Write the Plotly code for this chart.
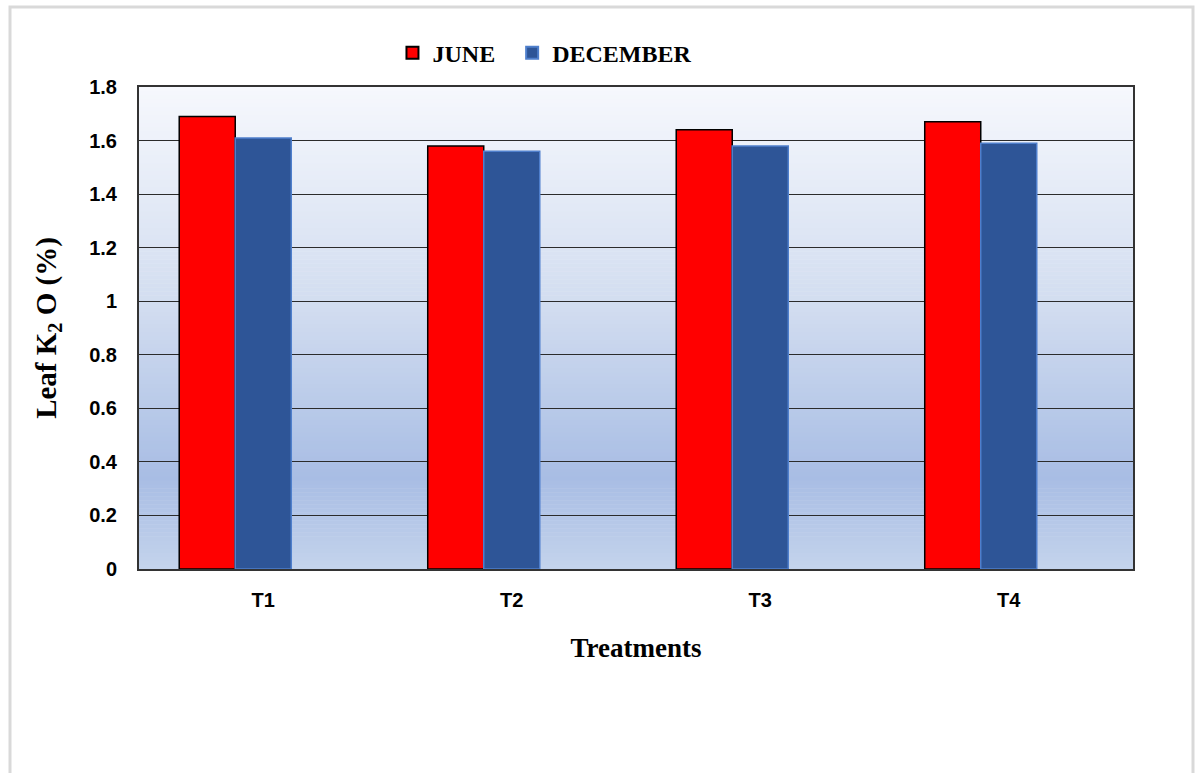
import plotly.graph_objects as go

# Leaf K2O content by treatment, two sampling months
treatments = ["T1", "T2", "T3", "T4"]
june = [1.69, 1.58, 1.64, 1.67]
december = [1.61, 1.56, 1.58, 1.59]

y_ticks = [0, 0.2, 0.4, 0.6, 0.8, 1.0, 1.2, 1.4, 1.6, 1.8]
y_tick_text = ["0", "0.2", "0.4", "0.6", "0.8", "1", "1.2", "1.4", "1.6", "1.8"]

# bars sit in the left two of three slots per category
BAR_W = 0.2254
SLOT0 = -1.5 * BAR_W

fig = go.Figure()
fig.add_trace(go.Bar(
    name="JUNE\u00a0\u00a0", x=treatments, y=june, width=BAR_W, offset=SLOT0,
    marker=dict(color="#ff0000", line=dict(color="#000000", width=1.5)),
))
fig.add_trace(go.Bar(
    name="DECEMBER", x=treatments, y=december, width=BAR_W, offset=SLOT0 + BAR_W,
    marker=dict(color="#2e5597", line=dict(color="#4f7fcc", width=1.5)),
))

# vertical gradient behind the plot area (light at top, deeper blue low, lighter at the base)
stops = [(0.0, (196, 211, 236)), (0.19, (168, 189, 228)), (0.55, (210, 221, 240)), (1.0, (246, 248, 253))]


def grad_color(t):
    for (t0, c0), (t1, c1) in zip(stops[:-1], stops[1:]):
        if t0 <= t <= t1:
            f = (t - t0) / (t1 - t0)
            return "rgb(%d,%d,%d)" % tuple(round(a + (b - a) * f) for a, b in zip(c0, c1))
    return "rgb(%d,%d,%d)" % stops[-1][1]


n_strips = 120
y_top = y_ticks[-1]
shapes = []
for i in range(n_strips):
    y0 = y_top * i / n_strips
    y1 = y_top * (i + 1) / n_strips
    shapes.append(dict(
        type="rect", xref="paper", yref="y", x0=0, x1=1, y0=y0, y1=y1 + 0.002,
        fillcolor=grad_color((i + 0.5) / n_strips), line=dict(width=0), layer="below",
    ))

# outer frame of the figure panel
shapes.append(dict(
    type="rect", xref="paper", yref="paper",
    x0=-129 / 994, x1=1054 / 994, y0=-1, y1=(569 - 7) / 482,
    line=dict(color="#d9d9d9", width=3), fillcolor="rgba(0,0,0,0)", layer="below",
))

fig.update_layout(
    width=1197, height=773,
    margin=dict(l=139, r=64, t=87, b=204),
    paper_bgcolor="white", plot_bgcolor="rgba(0,0,0,0)",
    barmode="overlay",
    shapes=shapes,
    showlegend=True,
    legend=dict(
        orientation="h", x=0.255, y=1.07, xanchor="left", yanchor="middle",
        font=dict(family="Liberation Serif", size=24, color="#000000", weight="bold"),
        itemwidth=30, itemsizing="constant", traceorder="normal",
        bgcolor="rgba(0,0,0,0)",
    ),
    font=dict(family="Liberation Sans", color="#000000"),
)

fig.update_xaxes(
    type="category",
    showgrid=False, showline=True, linecolor="#333333", linewidth=2, mirror=True,
    ticks="outside", ticklen=12, tickcolor="rgba(0,0,0,0)",
    tickfont=dict(family="Liberation Sans", size=20, color="#000000", weight="bold"),
    title=dict(text="<b>Treatments</b>", standoff=28,
               font=dict(family="Liberation Serif", size=27, color="#000000")),
)
fig.update_yaxes(
    range=[0, 1.8], tickvals=y_ticks, ticktext=y_tick_text,
    showgrid=True, gridcolor="#2b2b2b", gridwidth=1,
    showline=True, linecolor="#333333", linewidth=2, mirror=True,
    zeroline=False,
    ticks="outside", ticklen=16, tickcolor="rgba(0,0,0,0)",
    tickfont=dict(family="Liberation Sans", size=20, color="#000000", weight="bold"),
    title=dict(text="<b>Leaf K<sub>2</sub> O (%)</b>", standoff=24,
               font=dict(family="Liberation Serif", size=29, color="#000000")),
)

fig.write_html("out.html")
